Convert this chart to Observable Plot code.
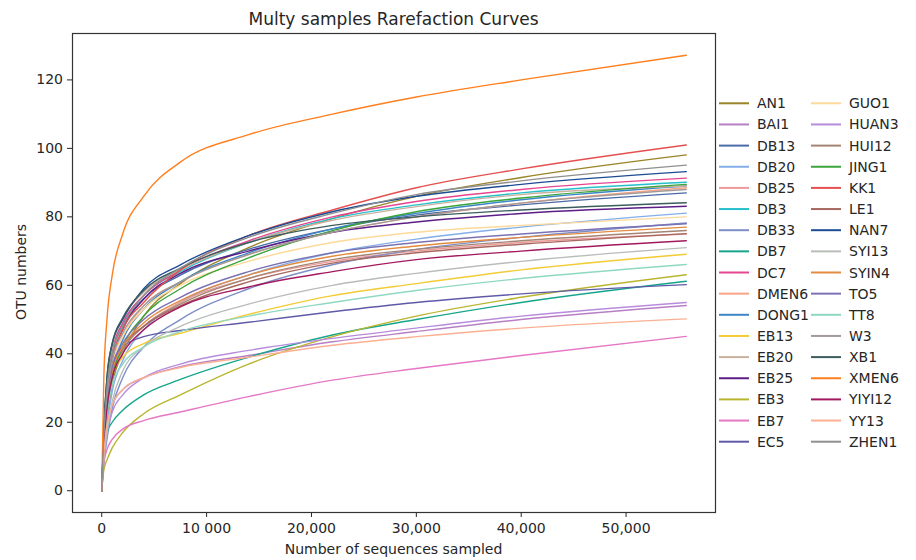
<!DOCTYPE html>
<html><head><meta charset="utf-8">
<script src="https://cdn.jsdelivr.net/npm/d3@7"></script>
<script src="https://cdn.jsdelivr.net/npm/@observablehq/plot@0.6"></script>
<style>
body{margin:0;background:#fff;}
#chart{position:relative;width:916px;height:560px;}
</style>
</head><body><div id="chart"></div>
<script>
// sampling depths at which OTU counts were read
const depths = [0, 200, 500, 1000, 2000, 4000, 7500, 14000, 22000, 30000, 40000, 55740];

const samples = ["AN1","BAI1","DB13","DB20","DB25","DB3","DB33","DB7","DC7","DMEN6","DONG1","EB13","EB20","EB25","EB3","EB7","EC5",
                 "GUO1","HUAN3","HUI12","JING1","KK1","LE1","NAN7","SYI13","SYIN4","TO5","TT8","W3","XB1","XMEN6","YIYI12","YY13","ZHEN1"];
const colors = ["#9a8428","#b77fc5","#4a6aa8","#84aee8","#ec9a9a","#25c0cc","#7d8ec8","#16a58c","#e5468f","#f9a486","#3d85c6","#f2cb35","#c9b19e","#5c1e86","#b9b52e","#e677c5","#5f5aa8",
                "#fdd99a","#b88cdc","#a48574","#3aa53a","#e4504f","#a6675e","#1c4c94","#b8bdb8","#e38b3f","#7a72b4","#8fd8c3","#a29a98","#3d5c5c","#ff7f1e","#a2185e","#fbb094","#8f8f8f"];

const AN1    = [0, 10, 20, 31, 40, 51, 60.5, 71, 79.5, 86, 91.5, 98.1];
const BAI1   = [0, 11, 19, 25, 29.5, 33, 36.2, 39.5, 43.5, 46.5, 50, 54.1];
const DB13   = [0, 16, 30, 40, 48, 56, 63, 70.5, 76.5, 80.5, 83.5, 87];
const DB20   = [0, 10, 19, 29, 38, 47, 55, 63, 69.5, 73.5, 77, 81.1];
const DB25   = [0, 12, 23, 33, 41, 48, 55, 62, 67, 70, 72.5, 75];
const DB3    = [0, 16, 30, 40, 48.5, 57, 64, 72.5, 79.5, 83.5, 87, 90.1];
const DB33   = [0, 8, 15, 24, 33, 42, 50, 59, 66, 70.5, 74, 78.2];
const DB7    = [0, 12, 17, 20, 23.5, 28, 32.5, 39, 45.5, 50, 55, 61.2];
const DC7    = [0, 17, 31, 41, 49, 57, 64.5, 73, 80, 84.5, 88, 91.3];
const DMEN6  = [0, 14, 27, 37, 45, 54, 61, 69, 75.5, 80, 84, 88.5];
const DONG1  = [0, 13, 25, 35, 44, 53, 61, 69.5, 76.5, 81, 85, 89];
const EB13   = [0, 15, 27, 34, 39, 43, 46, 51.5, 57, 60.5, 64.5, 69.1];
const EB20   = [0, 17, 32, 42, 50, 58, 64.5, 72.5, 79, 83, 86.5, 89];
const EB25   = [0, 14, 27, 38, 47, 56, 63.5, 70, 75.5, 78.5, 81, 83.1];
const EB3    = [0, 6, 9, 12.5, 17, 22.5, 28, 37, 45, 51, 56.5, 63.1];
const EB7    = [0, 8, 12, 15, 18, 20.5, 23, 27.5, 32.3, 35.7, 39.5, 45.1];
const EC5    = [0, 16, 28, 37, 42, 45, 46.8, 49.2, 52.3, 55, 57.5, 60.2];
const GUO1   = [0, 14, 27, 37, 45, 53, 60, 67, 72.5, 75.5, 77.5, 80];
const HUAN3  = [0, 10, 17, 23, 28, 33, 37, 41, 44.5, 47.5, 51, 55];
const HUI12  = [0, 13, 25, 34, 41, 48, 54.5, 62, 67.5, 70.5, 73, 76];
const JING1  = [0, 12, 23, 33, 42, 51, 59, 68, 76, 81.5, 85.5, 89.5];
const KK1    = [0, 10, 22, 38, 47, 55, 64.5, 74.5, 82, 88.5, 94, 101];
const LE1    = [0, 14, 26, 35, 42, 48, 54, 61, 66.5, 69.5, 72, 75.1];
const NAN7   = [0, 18, 33, 43, 50, 59, 66, 74.5, 81.5, 86, 89.5, 93.2];
const SYI13  = [0, 9, 17, 26, 35, 42, 48, 54.5, 60, 63.5, 67, 71];
const SYIN4  = [0, 13, 25, 35, 42, 49, 55.5, 63, 68.5, 71.5, 74, 77];
const TO5    = [0, 14, 26, 36, 43, 50, 56.5, 64, 69.5, 72.5, 75, 78];
const TT8    = [0, 12, 22, 31, 37, 42, 46.5, 51, 55, 58.5, 62, 66.1];
const W3     = [0, 15, 28, 38, 46, 54, 61, 69, 75.5, 80, 84, 88];
const XB1    = [0, 18, 33, 43, 50.5, 58.5, 65, 72.5, 77.5, 80, 82, 84.1];
const XMEN6  = [0, 33, 50, 63, 75, 86, 96, 104, 110, 115, 120, 127.2];
const YIYI12 = [0, 13, 24, 33, 40, 47, 53.7, 59.5, 64, 67.5, 70, 73];
const YY13   = [0, 11, 19, 25, 29.5, 33, 36, 39, 42.5, 45, 47.5, 50.2];
const ZHEN1  = [0, 16, 30, 40, 48, 57, 65, 74, 81, 86.5, 90.5, 95.1];

const series = [AN1,BAI1,DB13,DB20,DB25,DB3,DB33,DB7,DC7,DMEN6,DONG1,EB13,EB20,EB25,EB3,EB7,EC5,
                GUO1,HUAN3,HUI12,JING1,KK1,LE1,NAN7,SYI13,SYIN4,TO5,TT8,W3,XB1,XMEN6,YIYI12,YY13,ZHEN1];

const xTicks = [0, 10000, 20000, 30000, 40000, 50000];
const xTickLabels = ["0", "10 000", "20,000", "30,000", "40,000", "50,000"];
const yTicks = [0, 20, 40, 60, 80, 100, 120];

const titleText = "Multy samples Rarefaction Curves";
const xLabel = "Number of sequences sampled";
const yLabel = "OTU numbers";

const rows = [];
series.forEach((vals, k) => vals.forEach((v, i) => rows.push({sample: samples[k], depth: depths[i], otu: v})));

const font = "DejaVu Sans";
const plot = Plot.plot({
  width: 916, height: 560,
  marginLeft: 72, marginRight: 201, marginTop: 33, marginBottom: 48,
  style: {fontFamily: font, fontSize: "14px", background: "#fff", color: "#262626"},
  x: {domain: [-2787, 58527]},
  y: {domain: [-6.36, 133.56]},
  color: {domain: samples, range: colors},
  marks: [
    Plot.line(rows, {x: "depth", y: "otu", z: "sample", stroke: "sample", strokeWidth: 1.4, curve: "monotone-x"}),
    Plot.axisX({ticks: xTicks, tickFormat: d => xTickLabels[xTicks.indexOf(d)], tickSize: 5, tickPadding: 6, label: null, fontSize: 14}),
    Plot.axisY({ticks: yTicks, tickSize: 5, tickPadding: 4.5, label: null, fontSize: 14}),
    Plot.frame({stroke: "#333", strokeWidth: 1.2})
  ]
});
document.getElementById("chart").appendChild(plot);

const svg = d3.select(plot);
const cx = (72 + 715) / 2;
svg.append("text").attr("x", cx).attr("y", 25).attr("text-anchor", "middle")
  .attr("font-family", font).attr("font-size", 17).attr("fill", "#262626").text(titleText);
svg.append("text").attr("x", cx).attr("y", 554).attr("text-anchor", "middle")
  .attr("font-family", font).attr("font-size", 14).attr("fill", "#262626").text(xLabel);
svg.append("text").attr("transform", "translate(26,272) rotate(-90)").attr("text-anchor", "middle")
  .attr("font-family", font).attr("font-size", 14).attr("fill", "#262626").text(yLabel);

// legend (two columns)
const perCol = Math.ceil(samples.length / 2);
const lg = svg.append("g").attr("font-family", font).attr("font-size", 14).attr("fill", "#262626").attr("text-anchor", "start");
samples.forEach((s, i) => {
  const col = Math.floor(i / perCol), row = i % perCol;
  const x0 = col === 0 ? 719 : 811;
  const y0 = 103.3 + row * 21.15;
  lg.append("line").attr("x1", x0).attr("x2", x0 + 30).attr("y1", y0).attr("y2", y0)
    .attr("stroke", colors[i]).attr("stroke-width", 2);
  lg.append("text").attr("x", x0 + 38).attr("y", y0).attr("dy", "0.36em").attr("text-anchor", "start").text(s);
});
</script>
</body></html>
